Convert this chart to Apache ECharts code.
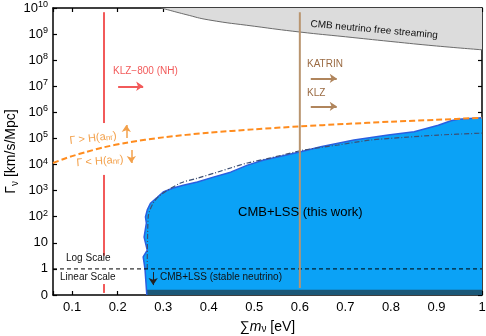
<!DOCTYPE html>
<html>
<head>
<meta charset="utf-8">
<script src="https://cdn.jsdelivr.net/npm/echarts@6/dist/echarts.min.js"></script>
<style>
html, body { margin: 0; padding: 0; background: #fff; }
#chart { width: 486px; height: 336px; }
</style>
</head>
<body>
<div id="chart"></div>
<script>
// y axis: 0..1 linear, above 1 one unit per decade
var yTickLabels = ['0', '1', '10', '10{s|2}', '10{s|3}', '10{s|4}', '10{s|5}',
    '10{s|6}', '10{s|7}', '10{s|8}', '10{s|9}', '10{s|10}'];

// CMB neutrino free streaming boundary
var freeMass = [0.296, 0.35, 0.4, 0.5, 0.6, 0.7, 0.8, 0.9, 1.0];
var freeGamma = [1e10, 5.6e9, 3.5e9, 2.0e9, 1.2e9, 7.9e8, 5.2e8, 3.5e8, 2.5e8];

// Gamma = H(a_nr)
var hubbleMass = [0.058, 0.08, 0.1, 0.13, 0.17, 0.22, 0.3, 0.4, 0.5, 0.6, 0.7, 0.8, 0.9, 1.0];
var hubbleGamma = [1.15e4, 1.6e4, 2.1e4, 3.0e4, 4.6e4, 6.9e4, 1.1e5, 1.66e5, 2.24e5, 2.9e5, 3.6e5, 4.4e5, 5.2e5, 6.2e5];

// CMB+LSS (this work) allowed region edge
var workMass = [0.264, 0.262, 0.260, 0.256, 0.265, 0.258, 0.263, 0.261, 0.265, 0.272, 0.287, 0.300,
    0.322, 0.344, 0.375, 0.410, 0.448, 0.485, 0.521, 0.551, 0.602, 0.646, 0.719, 0.794,
    0.851, 0.904, 0.932, 0.948, 1.0];
var workGamma = [0, 0.5, 1, 2.9, 5.2, 16.6, 57, 98, 182, 330, 560, 890,
    1260, 1620, 2140, 3300, 5100, 9500, 1.5e4, 1.95e4, 3.1e4, 4.8e4, 8.7e4, 1.35e5,
    1.8e5, 3.2e5, 4.8e5, 5.4e5, 6.2e5];

// dash-dot curve
var dotMass = [0.265, 0.267, 0.278, 0.294, 0.338, 0.375, 0.419, 0.448, 0.485, 0.536, 0.609, 0.684, 0.756, 0.829, 0.904, 1.0];
var dotGamma = [1, 98, 330, 680, 1950, 3000, 5100, 7400, 1.15e4, 1.8e4, 3.6e4, 5.6e4, 8.7e4, 1.1e5, 1.35e5, 1.6e5];

// stable neutrino band
var stableMass = [0.264, 1.0];
var stableGamma = [0.2, 0.2];

var klzMass = 0.17;
var klzSegments = [[6.9e9, 3.9e5], [4.0e3, 3.2], [0.42, 0.08]];
var katrinMass = 0.6;
var katrinSegment = [6.9e9, 0.27];

function ty(v) { return v <= 1 ? v : 1 + Math.log10(v); }
function pairs(xs, ys) { return xs.map(function (x, i) { return [x, ty(ys[i])]; }); }
function arrow(x1, g1, x2, g2, color, width) {
    return [{ coord: [x1, ty(g1)], lineStyle: { color: color, width: width, type: 'solid' } },
            { coord: [x2, ty(g2)] }];
}

var myChart = echarts.init(document.getElementById('chart'));

var series = [
    {
        type: 'line', data: pairs(freeMass, freeGamma), smooth: true, symbol: 'none',
        lineStyle: { color: '#6b6b6b', width: 1 },
        areaStyle: { color: '#dcdcdc', origin: 'end', opacity: 1 }
    },
    {
        type: 'line', data: pairs(workMass, workGamma), symbol: 'none',
        lineStyle: { color: '#2a5fe0', width: 1.5 },
        areaStyle: { color: '#0ba2f6', origin: 'start', opacity: 1 }
    },
    {
        type: 'line', data: pairs(stableMass, stableGamma), symbol: 'none',
        lineStyle: { width: 0 },
        areaStyle: { color: '#1b5878', origin: 'start', opacity: 1 }
    },
    {
        type: 'line', data: pairs(dotMass, dotGamma), smooth: 0.3, symbol: 'none',
        lineStyle: { color: '#3d4f73', width: 1.2, type: [5, 2, 1, 2] }
    },
    {
        type: 'line', data: pairs(hubbleMass, hubbleGamma), smooth: 0.3, symbol: 'none',
        lineStyle: { color: '#ff8c1e', width: 2, type: [6, 3] }
    },
    {
        type: 'line', data: [[0.058, 1], [1, 1]], symbol: 'none',
        lineStyle: { color: '#000', width: 1, type: [4, 3] }
    },
    {
        type: 'line', data: [[katrinMass, ty(katrinSegment[0])], [katrinMass, ty(katrinSegment[1])]], symbol: 'none',
        lineStyle: { color: '#b9956f', width: 2 }
    }
];

klzSegments.forEach(function (s) {
    series.push({
        type: 'line', data: [[klzMass, ty(s[0])], [klzMass, ty(s[1])]], symbol: 'none',
        lineStyle: { color: '#f25a5a', width: 2 }
    });
});

series.push({
    type: 'line', data: [], symbol: 'none',
    markLine: {
        silent: true, symbol: ['none', 'arrow'], symbolSize: 7,
        label: { show: false },
        data: [
            arrow(0.201, 1.0e7, 0.256, 1.0e7, '#f25a5a', 2),
            arrow(0.624, 2.0e7, 0.681, 2.0e7, '#b0855c', 2),
            arrow(0.624, 1.7e6, 0.681, 1.7e6, '#b0855c', 2),
            arrow(0.219, 1.05e5, 0.219, 3.3e5, '#f3a04a', 1.5),
            arrow(0.230, 3.6e4, 0.230, 1.15e4, '#f3a04a', 1.5),
            arrow(0.278, 0.88, 0.278, 0.38, '#222', 1)
        ]
    }
});

function txt(left, top, text, color, size, rot, rich) {
    return {
        type: 'text', left: left, top: top, rotation: rot || 0, z: 100,
        style: { text: text, fill: color, font: size + 'px "Liberation Sans"', rich: rich || {} }
    };
}

var subRich = { sub: { fontSize: 8, fill: '#f3a04a', verticalAlign: 'bottom', lineHeight: 10 } };

var option = {
    animation: false,
    textStyle: { fontFamily: 'Liberation Sans' },
    grid: { left: 53, right: 4, top: 8, bottom: 41, containLabel: false, outerBoundsMode: 'none' },
    xAxis: [{
        type: 'value', min: 0.058, max: 1, minInterval: 0.1, maxInterval: 0.1,
        position: 'bottom',
        axisLine: { onZero: false, lineStyle: { color: '#000', width: 1.5 } },
        axisTick: { inside: true, length: 4, lineStyle: { color: '#000', width: 1.2 } },
        axisLabel: {
            color: '#000', fontSize: 13, margin: 6,
            formatter: function (v) { return v < 0.09 ? '' : String(+v.toFixed(1)); }
        },
        splitLine: { show: false },
        name: '∑{it|m}{sub|ν} [eV]', nameLocation: 'middle', nameGap: 25, nameMoveOverlap: false,
        nameTextStyle: {
            color: '#000', fontSize: 14,
            rich: { it: { fontStyle: 'italic', fontSize: 14 }, sub: { fontSize: 10, verticalAlign: 'bottom', lineHeight: 12 } }
        }
    }, {
        type: 'value', min: 0.058, max: 1, minInterval: 0.1, maxInterval: 0.1,
        position: 'top',
        axisLine: { onZero: false, lineStyle: { color: '#000', width: 1.5 } },
        axisTick: { inside: true, length: 4, lineStyle: { color: '#000', width: 1.2 } },
        axisLabel: { show: false }, splitLine: { show: false }
    }],
    yAxis: [{
        type: 'value', min: 0, max: 11, interval: 1,
        axisLine: { show: true, onZero: false, lineStyle: { color: '#000', width: 1.5 } },
        axisTick: { show: true, inside: true, length: 4, lineStyle: { color: '#000', width: 1.2 } },
        axisLabel: {
            color: '#000', fontSize: 13, margin: 5, lineHeight: 16,
            formatter: function (v) { return yTickLabels[Math.round(v)]; },
            rich: { s: { fontSize: 9, verticalAlign: 'top', lineHeight: 9, color: '#000' } }
        },
        splitLine: { show: false },
        name: 'Γ{sub|ν} [km/s/Mpc]', nameLocation: 'middle', nameRotate: 90, nameGap: 33,
        nameMoveOverlap: false,
        nameTextStyle: {
            color: '#000', fontSize: 14, lineHeight: 18,
            rich: { sub: { fontSize: 10, verticalAlign: 'bottom', lineHeight: 12 } }
        }
    }, {
        type: 'value', min: 0, max: 11, interval: 1, position: 'right',
        axisLine: { show: true, onZero: false, lineStyle: { color: '#000', width: 1.5 } },
        axisTick: { show: true, inside: true, length: 4, lineStyle: { color: '#000', width: 1.2 } },
        axisLabel: { show: false }, splitLine: { show: false }
    }],
    series: series,
    graphic: [
        txt(310, 19, 'CMB neutrino free streaming', '#111', 10, -0.09),
        txt(113, 66, 'KLZ−800 (NH)', '#f25a5a', 10),
        txt(307, 59, 'KATRIN', '#9a6a42', 10),
        txt(307, 88, 'KLZ', '#9a6a42', 10),
        txt(69, 130, 'Γ > H(a{sub|nr})', '#f3a04a', 11, 0.12, subRich),
        txt(76, 154, 'Γ < H(a{sub|nr})', '#f3a04a', 11, 0.08, subRich),
        txt(66, 253, 'Log Scale', '#111', 10),
        txt(60, 272, 'Linear Scale', '#111', 10),
        txt(238, 206, 'CMB+LSS (this work)', '#000', 13),
        txt(160, 272, 'CMB+LSS (stable neutrino)', '#111', 10)
    ]
};

myChart.setOption(option);
</script>
</body>
</html>
